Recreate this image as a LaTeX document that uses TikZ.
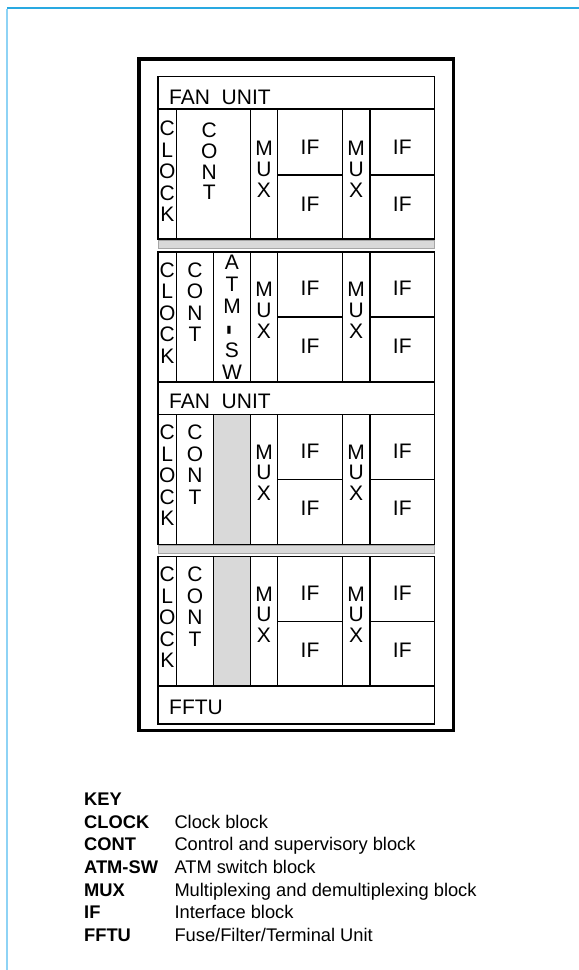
\documentclass[tikz,border=0pt]{standalone}
\usepackage{fontspec}
\setmainfont{Liberation Sans}
\usepackage{graphicx}
\definecolor{panelgrey}{HTML}{D9D9D9}
\definecolor{topblue}{HTML}{29A9E1}
\definecolor{leftblue}{HTML}{8ED3F5}
\newcommand{\dgfont}{\fontsize{21bp}{21.5bp}\selectfont}
\newcommand{\muxfont}{\fontsize{21bp}{20.7bp}\selectfont}
\newcommand{\atmfont}{\fontsize{21bp}{22bp}\selectfont}
\newcommand{\keyfont}{\fontsize{18.3bp}{22bp}\selectfont}
\tikzset{
  blk/.style={draw=black, line width=1.6bp},
  vlbl/.style={inner sep=0pt, font=\dgfont, align=center, anchor=north},
  mlbl/.style={inner sep=0pt, font=\muxfont, align=center, anchor=north},
  iflbl/.style={inner sep=0pt, font=\dgfont, anchor=base},
  hlbl/.style={inner sep=0pt, font=\dgfont, anchor=base west},
  keyl/.style={inner sep=0pt, font=\keyfont\bfseries, anchor=base west},
  keyd/.style={inner sep=0pt, font=\keyfont, anchor=base west},
  sep/.style={draw=gray!70, line width=0.6bp, fill=panelgrey}
}
% #1 name suffix, #2 top y, #3 extra option for third column
\newcommand{\cellrow}[3]{%
  \draw[blk] (158,#2) rectangle (176.5,{#2+130});
  \draw[blk] (176.5,#2) rectangle (213.5,{#2+130});
  \draw[blk,#3] (213.5,#2) rectangle (250.5,{#2+130});
  \draw[blk] (250.5,#2) rectangle (277.5,{#2+130});
  \draw[blk] (277.5,#2) rectangle (342.5,{#2+65});
  \draw[blk] (277.5,{#2+65}) rectangle (342.5,{#2+130});
  \draw[blk] (342.5,#2) rectangle (370,{#2+130});
  \draw[blk] (370,#2) rectangle (434.5,{#2+65});
  \draw[blk] (370,{#2+65}) rectangle (434.5,{#2+130});
  \node[vlbl] (clock#1) at (167.3,{#2+10.5}) {C\\L\\O\\C\\K};
  \node[vlbl] (cont#1) at (195,{#2+10.5}) {C\\O\\N\\T};
  \node[mlbl] (muxa#1) at (264,{#2+30}) {M\\U\\X};
  \node[iflbl] (ifa#1) at (310,{#2+43.5}) {IF};
  \node[iflbl] (ifb#1) at (310,{#2+101}) {IF};
  \node[mlbl] (muxb#1) at (356.2,{#2+30}) {M\\U\\X};
  \node[iflbl] (ifc#1) at (402.3,{#2+43.5}) {IF};
  \node[iflbl] (ifd#1) at (402.3,{#2+101}) {IF};
}
\begin{document}
\begin{tikzpicture}[x=1bp,y=-1bp]
\useasboundingbox (0,0) rectangle (579,970);
% page frame lines
\draw[topblue, line width=1.5bp] (7,8) -- (579,8);
\draw[leftblue, line width=1.5bp] (7,8.75) -- (7,970);
% cabinet frame
\draw[line width=3.5bp] (139,59) rectangle (453.5,730.5);
% top fan unit
\draw[blk] (158,76.5) rectangle (434.5,109);
\node[hlbl] (fan1) at (169,104.3) {FAN\ \ UNIT};
% row 1 (special: wide CONT)
\draw[blk] (158,109) rectangle (176.5,239);
\draw[blk] (176.5,109) rectangle (250.5,239);
\draw[blk] (250.5,109) rectangle (277.5,239);
\draw[blk] (277.5,109) rectangle (342.5,175);
\draw[blk] (277.5,175) rectangle (342.5,239);
\draw[blk] (342.5,109) rectangle (370,239);
\draw[blk] (370,109) rectangle (434.5,175);
\draw[blk] (370,175) rectangle (434.5,239);
\node[vlbl] (clock1) at (167.3,121) {C\\L\\O\\C\\K};
\node[inner sep=0pt, font=\fontsize{21bp}{20.7bp}\selectfont, align=center, anchor=north] (cont1) at (209.3,123) {C\\O\\N\\T};
\node[mlbl] (muxa1) at (264,141) {M\\U\\X};
\node[iflbl] (ifa1) at (310,154.3) {IF};
\node[iflbl] (ifb1) at (310,211.7) {IF};
\node[mlbl] (muxb1) at (356.2,141) {M\\U\\X};
\node[iflbl] (ifc1) at (402.3,154.3) {IF};
\node[iflbl] (ifd1) at (402.3,211.7) {IF};
% separator 1
\draw[sep] (158,240) rectangle (434.5,248.3);
% row 2
\cellrow{2}{252}{}
\node[inner sep=0pt, font=\atmfont, align=center, anchor=north] (atm2) at (232,255) {A\\T\\M\\\rotatebox{90}{\textbf{\scalebox{1.5}[1.3]{-}}}\\S\\W};
% middle fan unit
\draw[blk] (158,382) rectangle (434.5,414.5);
\node[hlbl] (fan2) at (169,408.3) {FAN\ \ UNIT};
% row 3
\cellrow{3}{414.5}{fill=panelgrey}
% separator 2
\draw[sep] (158,545.7) rectangle (434.5,553.3);
% row 4
\cellrow{4}{556.5}{fill=panelgrey}
% FFTU
\draw[blk] (158,686) rectangle (434.5,724);
\node[hlbl] (fftu) at (169,714) {FFTU};
% key
\node[keyl] (keyhead) at (84,805) {KEY};
\node[keyl] (k1) at (84,828.2) {CLOCK};
\node[keyd] (d1) at (174.3,828.2) {Clock block};
\node[keyl] (k2) at (84,850.8) {CONT};
\node[keyd] (d2) at (174.3,850.8) {Control and supervisory block};
\node[keyl] (k3) at (84,873.4) {ATM-SW};
\node[keyd] (d3) at (174.3,873.4) {ATM switch block};
\node[keyl] (k4) at (84,896) {MUX};
\node[keyd] (d4) at (174.3,896) {Multiplexing and demultiplexing block};
\node[keyl] (k5) at (84,918.6) {IF};
\node[keyd] (d5) at (174.3,918.6) {Interface block};
\node[keyl] (k6) at (84,941.2) {FFTU};
\node[keyd] (d6) at (174.3,941.2) {Fuse/Filter/Terminal Unit};
\end{tikzpicture}
\end{document}
